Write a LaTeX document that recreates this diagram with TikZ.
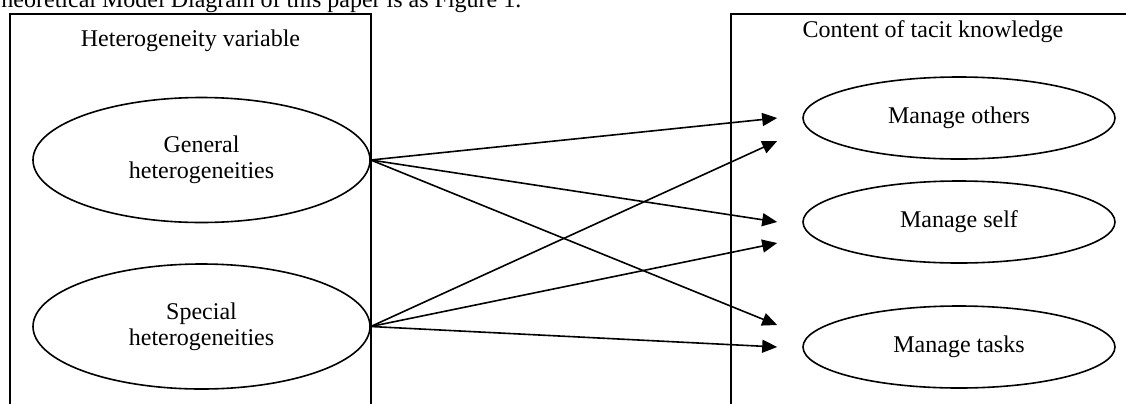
\documentclass[tikz,border=0pt]{standalone}
\usepackage{fontspec}
\setmainfont{Liberation Serif}
\usetikzlibrary{arrows.meta, positioning, shapes.geometric}

\begin{document}
\begin{tikzpicture}[x=0.5pt, y=-0.5pt, line width=0.8pt, on grid,
        >={Triangle[length=7.5pt, width=6.5pt]},
        every node/.style={font=\fontsize{12}{13}\selectfont},
        hetero/.style={ellipse, draw, align=center, inner sep=0pt, minimum width=168.5pt, minimum height=62.5pt},
        tacit/.style={ellipse, draw, inner sep=0pt, minimum width=156pt, minimum height=41pt}]
        \useasboundingbox (0,0) rectangle (1126,403);

        % text of the page above the figure, cut off by the top edge
        \node[anchor=base west, inner sep=0pt] (caption) at (-14,7) {Theoretical Model Diagram of this paper is as Figure 1.};

        \draw (10,14) rectangle (371,430);
        \draw (731,14) rectangle (1150,430);
        \node[anchor=base] (hettitle) at (190.5,46) {Heterogeneity variable};
        \node[anchor=base] (tacittitle) at (933,37) {Content of tacit knowledge};

        \node[hetero] (gen) at (201.5,160) {General\\heterogeneities};
        \node[hetero] (spec) [below=83.25pt of gen] {Special\\heterogeneities};

        \node[tacit] (oth) at (959,118) {Manage others};
        \node[tacit] (self) [below=52pt of oth] {Manage self};
        \node[tacit] (task) [below=62.5pt of self] {Manage tasks};

        \coordinate (oth1) at ([xshift=-12.5pt]oth.west);
        \coordinate (oth2) at ([xshift=-12.5pt, yshift=-11.5pt]oth.west);
        \coordinate (self1) at ([xshift=-12.5pt]self.west);
        \coordinate (self2) at ([xshift=-12.5pt, yshift=-10.5pt]self.west);
        \coordinate (task1) at ([xshift=-12.5pt, yshift=11pt]task.west);
        \coordinate (task2) at ([xshift=-12.5pt]task.west);

        \path[->]
        (gen.east) edge (oth1)
                   edge (self1)
                   edge (task1)
        (spec.east) edge (oth2)
                    edge (self2)
                    edge (task2);

    \end{tikzpicture}
\end{document}
